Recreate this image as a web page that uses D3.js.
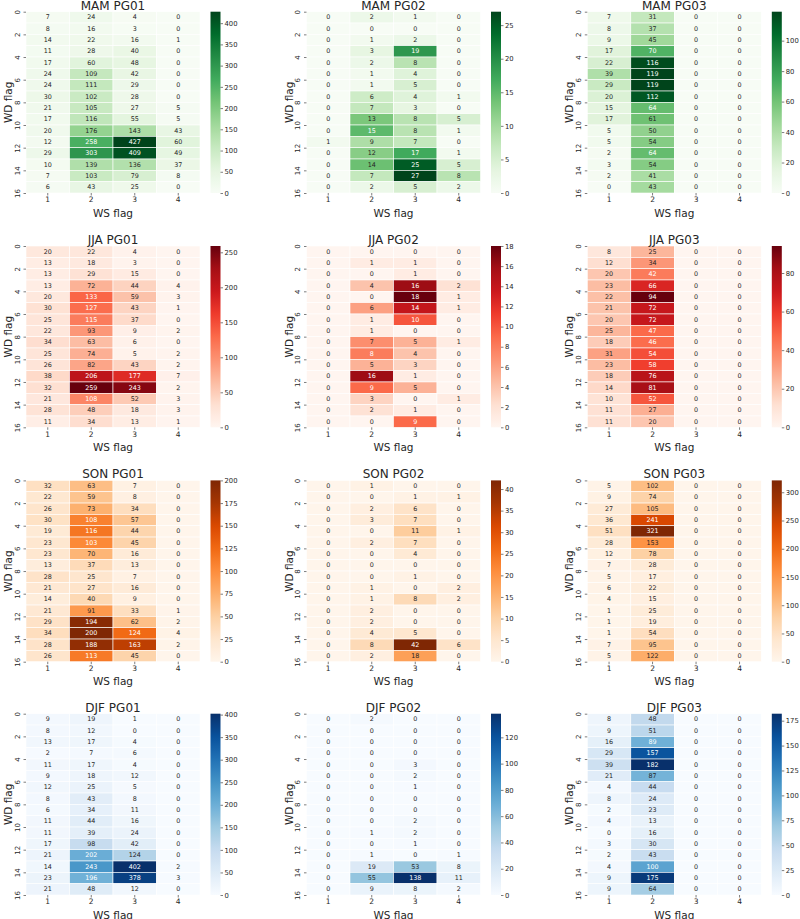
<!DOCTYPE html>
<html><head><meta charset="utf-8">
<script src="https://cdn.jsdelivr.net/npm/d3@7"></script>
<style>body{margin:0;background:#fff}text{font-family:"DejaVu Sans",sans-serif;fill:#262626}</style>
</head><body><svg id="c" width="800" height="919"></svg>
<script>
const seasons = ["MAM","JJA","SON","DJF"];
const stations = ["PG01","PG02","PG03"];
const wsFlags = [1,2,3,4];
const wdRows = [0,1,2,3,4,5,6,7,8,9,10,11,12,13,14,15];
const wdTicks = [0,2,4,6,8,10,12,14,16];

const mamPG01 = [[7,24,4,0],[8,16,3,0],[14,22,16,1],[11,28,40,0],[17,60,48,0],[24,109,42,0],[24,111,29,0],[30,102,28,0],[21,105,27,5],[17,116,55,5],[20,176,143,43],[12,258,427,60],[29,303,409,49],[10,139,136,37],[7,103,79,8],[6,43,25,0]];
const mamPG02 = [[0,2,1,0],[0,0,0,0],[0,1,2,0],[0,3,19,0],[0,2,8,0],[0,1,4,0],[0,1,5,0],[0,6,4,1],[0,7,3,0],[0,13,8,5],[0,15,8,1],[1,9,7,0],[0,12,17,1],[0,14,25,5],[0,7,27,8],[0,2,5,2]];
const mamPG03 = [[7,31,0,0],[8,37,0,0],[9,45,0,0],[17,70,0,0],[22,116,0,0],[39,119,0,0],[29,119,0,0],[20,112,0,0],[15,64,0,0],[17,61,0,0],[5,50,0,0],[5,54,0,0],[2,64,0,0],[3,54,0,0],[2,41,0,0],[0,43,0,0]];
const jjaPG01 = [[20,22,4,0],[13,18,3,0],[13,29,15,0],[13,72,44,4],[20,133,59,3],[30,127,43,1],[25,115,37,0],[22,93,9,2],[34,63,6,0],[25,74,5,2],[26,82,43,2],[38,206,177,7],[32,259,243,2],[21,108,52,3],[28,48,18,3],[11,34,13,1]];
const jjaPG02 = [[0,0,0,0],[0,1,1,0],[0,0,1,0],[0,4,16,2],[0,0,18,1],[0,6,14,1],[0,1,10,0],[0,1,0,0],[0,7,5,1],[0,8,4,0],[0,5,3,0],[0,16,1,0],[0,9,5,0],[0,3,0,1],[0,2,1,0],[0,0,9,0]];
const jjaPG03 = [[8,25,0,0],[12,34,0,0],[20,42,0,0],[23,66,0,0],[22,94,0,0],[21,72,0,0],[20,72,0,0],[25,47,0,0],[18,46,0,0],[31,54,0,0],[23,58,0,0],[18,76,0,0],[14,81,0,0],[10,52,0,0],[11,27,0,0],[11,20,0,0]];
const sonPG01 = [[32,63,7,0],[22,59,8,0],[26,73,34,0],[30,108,57,0],[19,116,44,0],[23,103,45,0],[23,70,16,0],[13,37,13,0],[28,25,7,0],[21,27,16,0],[14,40,9,0],[21,91,33,1],[29,194,62,2],[34,200,124,4],[28,188,163,2],[26,113,45,0]];
const sonPG02 = [[0,1,0,0],[0,0,1,1],[0,2,6,0],[0,3,7,0],[0,0,11,1],[0,2,7,0],[0,0,4,0],[0,0,0,0],[0,0,1,0],[0,1,0,2],[0,1,8,2],[0,2,0,0],[0,2,0,0],[0,4,5,0],[0,8,42,6],[0,2,18,0]];
const sonPG03 = [[5,102,0,0],[9,74,0,0],[27,105,0,0],[36,241,0,0],[51,321,0,0],[28,153,0,0],[12,78,0,0],[7,28,0,0],[5,17,0,0],[6,22,0,0],[4,15,0,0],[1,25,0,0],[1,19,0,0],[1,54,0,0],[7,95,0,0],[5,122,0,0]];
const djfPG01 = [[9,19,1,0],[8,12,0,0],[13,17,4,0],[2,7,6,0],[11,17,4,0],[9,18,12,0],[12,25,5,0],[8,43,8,0],[6,34,11,0],[11,44,16,0],[11,39,24,0],[17,98,42,0],[21,202,124,0],[14,243,402,2],[23,196,378,3],[21,48,12,0]];
const djfPG02 = [[0,2,0,0],[0,0,0,0],[0,0,0,0],[0,0,0,0],[0,0,3,0],[0,0,2,0],[0,0,1,0],[0,0,0,0],[0,0,0,0],[0,0,2,0],[0,1,2,0],[0,0,1,0],[0,1,0,1],[0,19,53,8],[0,55,138,11],[0,9,8,2]];
const djfPG03 = [[8,48,0,0],[9,51,0,0],[16,89,0,0],[29,157,0,0],[39,182,0,0],[21,87,0,0],[4,44,0,0],[8,24,0,0],[2,23,0,0],[4,13,0,0],[0,16,0,0],[3,30,0,0],[2,43,0,0],[4,100,0,0],[9,175,0,0],[9,64,0,0]];

const cbTicksMAM = [[0,50,100,150,200,250,300,350,400],[0,5,10,15,20,25],[0,20,40,60,80,100]];
const cbTicksJJA = [[0,50,100,150,200,250],[0,2,4,6,8,10,12,14,16,18],[0,20,40,60,80]];
const cbTicksSON = [[0,25,50,75,100,125,150,175,200],[0,5,10,15,20,25,30,35,40],[0,50,100,150,200,250,300]];
const cbTicksDJF = [[0,50,100,150,200,250,300,350,400],[0,20,40,60,80,100,120],[0,25,50,75,100,125,150,175]];

const panelData = [[mamPG01,mamPG02,mamPG03],[jjaPG01,jjaPG02,jjaPG03],[sonPG01,sonPG02,sonPG03],[djfPG01,djfPG02,djfPG03]];
const panelTicks = [cbTicksMAM,cbTicksJJA,cbTicksSON,cbTicksDJF];
const cmaps = [d3.schemeGreens[9],d3.schemeReds[9],d3.schemeOranges[9],d3.schemeBlues[9]]
  .map(s => d3.piecewise(d3.interpolateRgb, s));

// layout
const colLeft = [26, 306.5, 587.3];
const rowTop = [11.7, 246, 480.4, 713.7];
const W = 174, H = 181.3, cbGap = 184.5, cbW = 10;

const svg = d3.select("#c");
const defs = svg.append("defs");

function lum(c){
  const f = v => { v/=255; return v<=0.03928 ? v/12.92 : Math.pow((v+0.055)/1.055,2.4); };
  const r = d3.rgb(c);
  return 0.2126*f(r.r)+0.7152*f(r.g)+0.0722*f(r.b);
}

seasons.forEach((season, si) => {
  stations.forEach((st, ci) => {
    const data = panelData[si][ci];
    const left = colLeft[ci], top = rowTop[si];
    const vmax = d3.max(data.flat()), vmin = d3.min(data.flat());
    const color = d3.scaleSequential(cmaps[si]).domain([vmin, vmax]);
    const x = d3.scaleBand().domain(wsFlags).range([left, left+W]);
    const y = d3.scaleBand().domain(wdRows).range([top, top+H]);
    const yl = d3.scaleLinear().domain([0,16]).range([top, top+H]);
    const g = svg.append("g");

    const cells = [];
    data.forEach((row, r) => row.forEach((v, c) => cells.push({r, c:wsFlags[c], v})));
    g.selectAll("rect.cell").data(cells).join("rect")
      .attr("x", d => x(d.c)).attr("y", d => y(d.r))
      .attr("width", x.bandwidth()).attr("height", y.bandwidth())
      .attr("fill", d => color(d.v)).attr("stroke", "#fff").attr("stroke-width", 0.6);
    g.selectAll("text.ann").data(cells).join("text")
      .attr("x", d => x(d.c)+x.bandwidth()/2).attr("y", d => y(d.r)+y.bandwidth()/2)
      .attr("text-anchor","middle").attr("dominant-baseline","central")
      .style("font-size","6.4px")
      .style("fill", d => lum(color(d.v)) > 0.408 ? "#262626" : "#ffffff")
      .text(d => d.v);

    // x axis
    const xa = g.append("g").attr("transform", `translate(0,${top+H})`)
      .call(d3.axisBottom(x).tickSize(2.5).tickPadding(1.5));
    xa.select(".domain").remove();
    xa.selectAll("line").attr("stroke","#262626").attr("stroke-width",0.6);
    xa.selectAll("text").style("font-size","7.5px").attr("fill","#262626");

    // y axis
    const ya = g.append("g").attr("transform", `translate(${left},0)`)
      .call(d3.axisLeft(yl).tickValues(wdTicks).tickSize(2.5));
    ya.select(".domain").remove();
    ya.selectAll("line").attr("stroke","#262626").attr("stroke-width",0.6);
    ya.selectAll("text").style("font-size","7px").attr("fill","#262626")
      .attr("x", null).attr("dy", null)
      .attr("text-anchor","middle").attr("dominant-baseline","central")
      .attr("transform","translate(-8.5,0) rotate(-90)");

    // title & labels
    g.append("text").attr("x", left+W/2).attr("y", top-6).attr("text-anchor","middle")
      .attr("dominant-baseline","central").style("font-size","12px").text(`${season} ${st}`);
    g.append("text").attr("transform", `translate(${left-18},${top+H/2}) rotate(-90)`)
      .attr("text-anchor","middle").attr("dominant-baseline","central")
      .style("font-size","10.5px").text("WD flag");
    g.append("text").attr("x", left+W/2).attr("y", top+H+19.5).attr("text-anchor","middle")
      .attr("dominant-baseline","central").style("font-size","10.5px").text("WS flag");

    // colorbar
    const gid = `grad${si}${ci}`;
    const grad = defs.append("linearGradient").attr("id", gid)
      .attr("x1","0").attr("y1","1").attr("x2","0").attr("y2","0");
    d3.range(0, 1.0001, 0.02).forEach(t => grad.append("stop")
      .attr("offset", t).attr("stop-color", cmaps[si](t)));
    const cbx = left + cbGap;
    g.append("rect").attr("x", cbx).attr("y", top).attr("width", cbW).attr("height", H)
      .attr("fill", `url(#${gid})`);
    const cs = d3.scaleLinear().domain([vmin, vmax]).range([top+H, top]);
    const ca = g.append("g").attr("transform", `translate(${cbx+cbW},0)`)
      .call(d3.axisRight(cs).tickValues(panelTicks[si][ci]).tickSize(2.5).tickPadding(1.5));
    ca.select(".domain").remove();
    ca.selectAll("line").attr("stroke","#262626").attr("stroke-width",0.6);
    ca.selectAll("text").style("font-size","6.8px").attr("fill","#262626");
  });
});
</script></body></html>
